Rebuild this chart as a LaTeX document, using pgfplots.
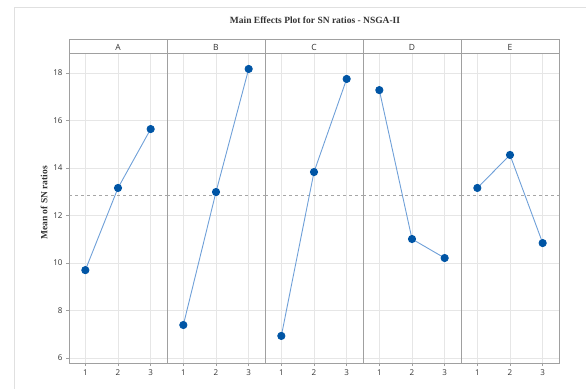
\documentclass[border=0pt]{standalone}
\usepackage{pgfplots}
\pgfplotsset{compat=1.18}
\usepackage{fontspec}
\setmainfont{Liberation Serif}
\newfontfamily\tickfont{Open Sans}
\definecolor{lineblue}{HTML}{6FA0D8}
\definecolor{markblue}{HTML}{0055A5}
\definecolor{framegray}{HTML}{A0A0A0}
\definecolor{gridgray}{HTML}{E6E6E6}
\pgfplotsset{
  panel/.style={
    scale only axis,
    width=98pt, height=309pt,
    anchor=south west,
    xmin=0.5, xmax=3.5,
    ymin=5.79, ymax=18.8,
    xtick={1,2,3},
    ytick={6,8,10,12,14,16,18},
    grid=major,
    major grid style={gridgray, line width=0.6pt},
    axis line style={framegray, line width=1pt},
    tick style={framegray, line width=0.6pt},
    tick align=outside,
    major tick length=3pt,
    xtick pos=bottom,
    ytick pos=left,
    tick label style={font=\tickfont\fontsize{8}{9}\selectfont, text=black!80},
    /pgf/number format/assume math mode=true,
    clip=false,
  },
  dataline/.style={lineblue, line width=0.9pt, mark=*, mark size=3.6pt,
    mark options={fill=markblue, draw=markblue}},
}
\newcommand{\strip}[1]{%
  \draw[framegray, line width=1pt] (rel axis cs:0,1) rectangle ([yshift=14pt]rel axis cs:1,1);
  \node[font=\tickfont\fontsize{8.5}{9}\selectfont, text=black!80] at ([yshift=7pt]rel axis cs:0.5,1) {#1};
  \draw[black!35, dashed, line width=0.7pt] (axis cs:0.5,12.83) -- (axis cs:3.5,12.83);
}
\begin{document}
\begin{tikzpicture}
\useasboundingbox (0pt,0pt) rectangle (586pt,389pt);
\draw[black!12, line width=0.8pt] (14pt,0pt) -- (14pt,382pt) -- (586pt,382pt);
\node[font=\fontsize{9.5}{10}\selectfont\bfseries, text=black!80] at (315pt,369pt) {Main Effects Plot for SN ratios - NSGA-II};
\node[font=\fontsize{9.5}{10}\selectfont\bfseries, text=black!80, rotate=90] at (44pt,186pt) {Mean of SN ratios};

\begin{axis}[panel, at={(69pt,26pt)}]
\strip{A}
\addplot[dataline] coordinates {(1,9.70) (2,13.16) (3,15.64)};
\end{axis}
\begin{axis}[panel, at={(167pt,26pt)}, yticklabels={}, ytick style={draw=none}]
\strip{B}
\addplot[dataline] coordinates {(1,7.39) (2,12.99) (3,18.17)};
\end{axis}
\begin{axis}[panel, at={(265pt,26pt)}, yticklabels={}, ytick style={draw=none}]
\strip{C}
\addplot[dataline] coordinates {(1,6.93) (2,13.83) (3,17.75)};
\end{axis}
\begin{axis}[panel, at={(363pt,26pt)}, yticklabels={}, ytick style={draw=none}]
\strip{D}
\addplot[dataline] coordinates {(1,17.28) (2,11.01) (3,10.21)};
\end{axis}
\begin{axis}[panel, at={(461pt,26pt)}, yticklabels={}, ytick style={draw=none}]
\strip{E}
\addplot[dataline] coordinates {(1,13.16) (2,14.55) (3,10.84)};
\end{axis}
\end{tikzpicture}
\end{document}
